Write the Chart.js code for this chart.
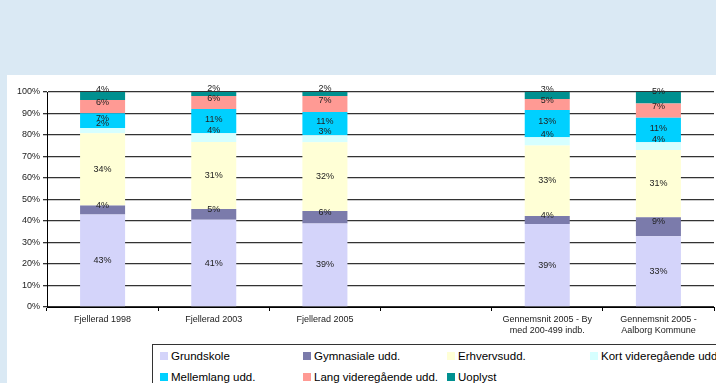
<!DOCTYPE html>
<html>
<head>
<meta charset="utf-8">
<script src="https://cdn.jsdelivr.net/npm/chart.js@4"></script>
<style>
  html, body { margin: 0; padding: 0; }
  body { width: 716px; height: 383px; background: #dae9f4; position: relative; overflow: hidden; font-family: "Liberation Sans", Arial, sans-serif; }
  #panel { position: absolute; left: 7px; top: 75px; width: 709px; height: 308px; background: #fff; }
  #wrap { position: absolute; left: 0; top: 0; width: 716px; height: 383px; }
  #legend { position: absolute; left: 152px; top: 344px; width: 600px; height: 60px; border: 1px solid #333; background: #fff; }
  .item { position: absolute; font-size: 11.5px; color: #000; white-space: nowrap; line-height: 14px; }
  .item span { display: inline-block; width: 8px; height: 8px; margin-right: 3px; vertical-align: 0px; }
</style>
</head>
<body>
<div id="panel"></div>
<div id="wrap"><canvas id="myChart" width="716" height="383"></canvas></div>
<div id="legend"></div>
<script>
const kategorier = [
    "Fjellerad 1998",
    "Fjellerad 2003",
    "Fjellerad 2005",
    "",
    ["Gennemsnit 2005 - By", "med 200-499 indb."],
    ["Gennemsnit 2005 -", "Aalborg Kommune"]
];
const serier = ["Grundskole", "Gymnasiale udd.", "Erhvervsudd.", "Kort videregående udd.", "Mellemlang udd.", "Lang videregående udd.", "Uoplyst"];

const grundskole = [43.0, 40.6, 38.8, null, 38.6, 32.9];
const gymnasiale = [4.2, 5.0, 5.8, null, 3.7, 8.9];
const erhverv = [33.6, 31.2, 32.0, null, 32.8, 31.2];
const kortVideregaende = [2.4, 4.0, 3.3, null, 3.9, 3.6];
const mellemlang = [6.9, 11.3, 10.8, null, 12.6, 11.4];
const langVideregaende = [6.2, 6.0, 7.4, null, 5.1, 6.6];
const uoplyst = [3.7, 1.9, 1.9, null, 3.3, 5.4];

const yTicks = [0, 10, 20, 30, 40, 50, 60, 70, 80, 90, 100];

const farver = ["#d4d4fa", "#7b7bab", "#ffffd6", "#d6ffff", "#00d0ff", "#ff9a94", "#009090"];
// labels of small segments sit a bit above the middle, as in the original
const labelShift = [0, -5, 0, -7, -2, -4, -6];

const vaerdier = [grundskole, gymnasiale, erhverv, kortVideregaende, mellemlang, langVideregaende, uoplyst];

const etiketter = {
    id: "etiketter",
    afterDatasetsDraw(chart) {
        const ctx = chart.ctx;
        ctx.save();
        ctx.font = "9px 'Liberation Sans', Arial, sans-serif";
        ctx.fillStyle = "#222";
        ctx.textAlign = "center";
        ctx.textBaseline = "middle";
        chart.data.datasets.forEach((ds, i) => {
            const meta = chart.getDatasetMeta(i);
            meta.data.forEach((bar, j) => {
                const v = ds.data[j];
                if (v == null) return;
                const yMid = (bar.y + bar.base) / 2 + labelShift[i];
                ctx.fillText(Math.round(v) + "%", bar.x, yMid);
            });
        });
        ctx.restore();
    }
};

const canvas = document.getElementById("myChart");
const myChart = new Chart(canvas, {
    type: "bar",
    data: {
        labels: kategorier,
        datasets: serier.map((navn, i) => ({
            label: navn,
            data: vaerdier[i],
            backgroundColor: farver[i],
            borderWidth: 0,
            categoryPercentage: 1,
            barPercentage: 0.405
        }))
    },
    options: {
        responsive: false,
        animation: false,
        layout: { padding: { left: 0, right: 2, top: 92, bottom: 36 } },
        plugins: {
            legend: { display: false },
            tooltip: { enabled: false }
        },
        scales: {
            x: {
                stacked: true,
                offset: true,
                grid: { display: true, offset: true, drawOnChartArea: false, drawTicks: true, tickLength: 4, color: "#000" },
                border: { display: true, color: "#000", width: 1 },
                ticks: { color: "#222", font: { size: 9, family: "'Liberation Sans', Arial, sans-serif" }, padding: 3, maxRotation: 0, autoSkip: false },
                afterFit(scale) { scale.height = 40; }
            },
            y: {
                stacked: true,
                min: 0,
                max: 100,
                afterBuildTicks(scale) { scale.ticks = yTicks.map(v => ({ value: v })); },
                grid: { color: "#333", lineWidth: 1.3, tickLength: 4, drawTicks: true },
                border: { display: true, color: "#000", width: 1 },
                ticks: { color: "#222", font: { size: 9, family: "'Liberation Sans', Arial, sans-serif" }, padding: 3, callback: v => v + "%" },
                afterFit(scale) { scale.width = 47; }
            }
        }
    },
    plugins: [etiketter]
});

// legend, 4 columns
const legend = document.getElementById("legend");
const kolonner = [7, 150, 294, 437];
serier.forEach((navn, i) => {
    const el = document.createElement("div");
    el.className = "item";
    el.style.left = kolonner[i % 4] + "px";
    el.style.top = (i < 4 ? 4 : 25) + "px";
    el.innerHTML = `<span style="background:${farver[i]}"></span>${navn}`;
    legend.appendChild(el);
});
</script>
</body>
</html>
